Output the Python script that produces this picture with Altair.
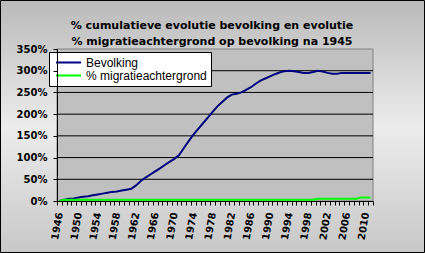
import altair as alt
import pandas as pd

years = list(range(1946, 2012))

bevolking = [
    0, 3, 5, 6, 8, 10, 11, 13, 15, 17, 19, 21, 22, 24, 26, 28,   # 1946-1961
    36, 46, 54, 61, 68, 75, 83, 90, 97,                          # 1962-1970
    106, 122, 138, 153, 166, 179, 192, 205, 218,                 # 1971-1979
    228, 238, 245, 247, 250, 256, 262, 270, 277, 282,            # 1980-1989
    287, 292, 296, 299, 300, 299, 297, 295, 295, 297,            # 1990-1999
    300, 298, 295, 293, 293, 295, 295, 295, 295, 295, 295, 295,  # 2000-2011
]

migratie = [
    0, 3, 3, 3, 3, 3, 3, 3, 3, 3, 3, 3, 3, 3, 3, 3,              # 1946-1961
    3, 3, 3, 3, 3, 3, 3, 3, 3,                                   # 1962-1970
    3, 3, 3, 3, 3, 3, 3, 3, 3,                                   # 1971-1979
    3, 3, 3, 3, 3, 3, 3, 3, 3, 3,                                # 1980-1989
    3, 3, 3, 3, 3, 3, 3, 3, 3, 3,                                # 1990-1999
    5, 5, 5, 5, 5, 5, 5, 5, 5, 8, 8, 8,                          # 2000-2011
]

series_names = ["Bevolking", "% migratieachtergrond"]
series_colors = ["#000080", "#00FF00"]
y_ticks = [0, 50, 100, 150, 200, 250, 300, 350]
grid_values = [50, 100, 150, 200, 250, 300]
title_lines = ["% cumulatieve evolutie bevolking en evolutie",
               "% migratieachtergrond op bevolking na 1945"]

W, H = 316, 152

rows = []
for yr, b, m in zip(years, bevolking, migratie):
    rows.append({"jaar": yr, "serie": series_names[0], "waarde": b})
    rows.append({"jaar": yr, "serie": series_names[1], "waarde": m})
df = pd.DataFrame(rows)

x_lo = years[0] - 0.5
x_hi = years[-1] + 0.5
tick_vals = [y - 0.5 for y in years] + [x_hi]

xscale = alt.Scale(domain=[x_lo, x_hi], nice=False, zero=False)
yscale = alt.Scale(domain=[0, 350], nice=False)

x_axis = alt.Axis(values=tick_vals, tickSize=4, tickColor="black",
                  domainColor="black", labelAngle=-80,
                  labelAlign="right", labelBaseline="middle",
                  labelPadding=7, labelOffset=2.4,
                  labelExpr="(datum.value + 0.5 - 1946) % 4 == 0 ? format(datum.value + 0.5, 'd') : ''",
                  labelOverlap=False, labelFlush=False, labelBound=False,
                  labelFont="DejaVu Sans", labelFontSize=10,
                  labelFontWeight="bold", labelColor="black",
                  title=None, grid=False, zindex=1)
y_axis = alt.Axis(values=y_ticks, tickSize=4, tickColor="black",
                  domainColor="black", labelPadding=6,
                  labelExpr="datum.value + '%'",
                  labelOverlap=False, labelFlush=False, labelBound=False,
                  labelFont="DejaVu Sans", labelFontSize=10,
                  labelFontWeight="bold", labelColor="black",
                  title=None, grid=False, zindex=1)

dummy = pd.DataFrame({"a": [0]})

bg = alt.Chart(dummy).mark_rect(
    fill=alt.LinearGradient(
        gradient="linear", x1=0, y1=0, x2=0, y2=1,
        stops=[alt.GradientStop(offset=0, color="#bababa"),
               alt.GradientStop(offset=0.5, color="#ececec"),
               alt.GradientStop(offset=1, color="#c8c8c8")]),
    stroke="#000000", strokeWidth=1,
).encode(
    x=alt.value(-56.5), x2=alt.value(367.5),
    y=alt.value(-48.5), y2=alt.value(203.5),
)

plotbg = alt.Chart(dummy).mark_rect(
    fill="#C0C0C0", stroke="#808080", strokeWidth=1
).encode(
    x=alt.X(datum=x_lo, scale=xscale, axis=x_axis), x2=alt.X2(datum=x_hi),
    y=alt.Y(datum=0, scale=yscale, axis=y_axis), y2=alt.Y2(datum=350),
)

grid = alt.Chart(pd.DataFrame({"g": grid_values})).mark_rule(
    color="#000000", strokeWidth=1
).encode(y=alt.Y("g:Q", scale=yscale, axis=y_axis))

lines = alt.Chart(df).mark_line(strokeWidth=2).encode(
    x=alt.X("jaar:Q", scale=xscale, axis=x_axis),
    y=alt.Y("waarde:Q", scale=yscale, axis=y_axis),
    color=alt.Color("serie:N",
                    scale=alt.Scale(domain=series_names, range=series_colors),
                    sort=series_names,
                    legend=alt.Legend(orient="none", legendX=-8, legendY=3,
                                      title=None, fillColor="white",
                                      strokeColor="black", padding=4,
                                      symbolType="stroke", symbolSize=625,
                                      symbolStrokeWidth=2, symbolOffset=2,
                                      clipHeight=13, rowPadding=0,
                                      labelOffset=4, labelFont="Liberation Sans",
                                      labelFontSize=12, labelColor="black",
                                      labelLimit=300)),
)

chart = alt.layer(bg, plotbg, grid, lines).properties(
    width=W, height=H,
    autosize=alt.AutoSizeParams(type="none"),
    padding={"left": 57, "top": 49, "right": 52, "bottom": 52},
    title=alt.TitleParams(text=title_lines, font="DejaVu Sans", fontSize=11,
                          fontWeight="bold", color="black", anchor="middle",
                          lineHeight=16, offset=6, dx=-3, dy=53),
).configure_view(strokeWidth=0).configure(background="#d0d0d0")

chart.save("out.html", embed_options={"renderer": "svg", "actions": False})
